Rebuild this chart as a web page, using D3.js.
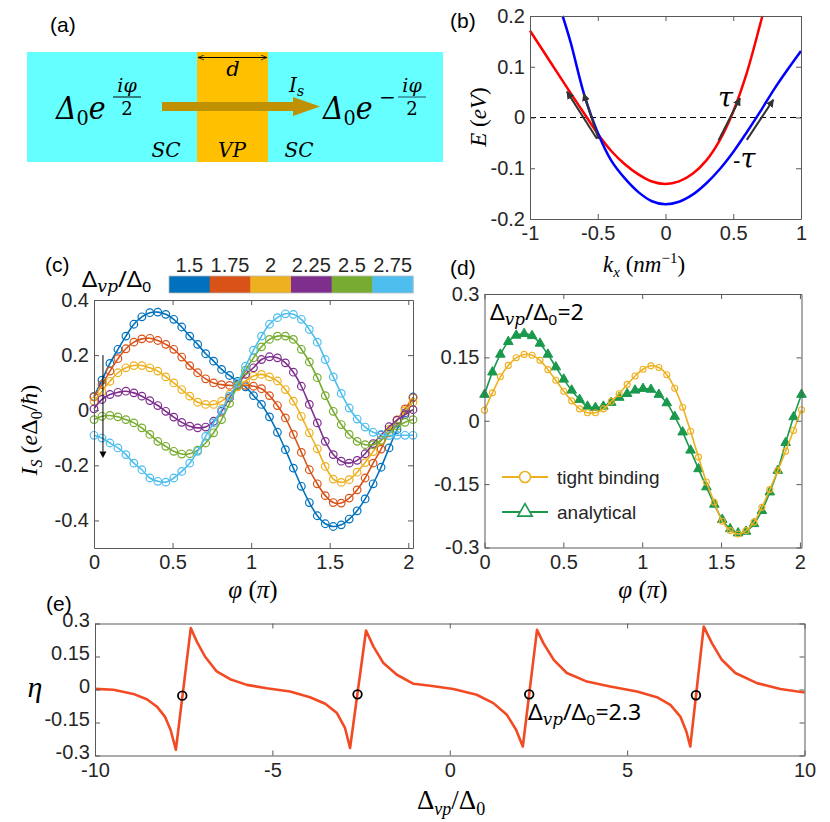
<!DOCTYPE html>
<html>
<head>
<meta charset="utf-8">
<script src="https://cdn.jsdelivr.net/npm/d3@7"></script>
<style>
  body { margin: 0; background: #fff; }
  svg { display: block; }
</style>
</head>
<body>
<div id="fig"></div>
<script>
// ---------- data ----------

// (b) band dispersion
const redKx  = [-1, -0.9, -0.8, -0.7, -0.6, -0.5, -0.4, -0.3, -0.2, -0.1, 0, 0.1, 0.2, 0.3, 0.4, 0.5, 0.6, 0.7, 0.715];
const redE   = [0.171, 0.130, 0.089, 0.048, 0.008, -0.032, -0.066, -0.092, -0.112, -0.126, -0.131, -0.126, -0.111, -0.085, -0.045, 0.012, 0.088, 0.185, 0.2];
const blueKx = [-0.759, -0.7, -0.6, -0.5, -0.4, -0.3, -0.2, -0.1, 0, 0.1, 0.2, 0.3, 0.4, 0.5, 0.6, 0.7, 0.8, 0.9, 1.0];
const blueE  = [0.2, 0.148, 0.045, -0.030, -0.085, -0.120, -0.147, -0.165, -0.171, -0.166, -0.152, -0.130, -0.102, -0.068, -0.029, 0.012, 0.055, 0.094, 0.131];
// tangent arrows
const tanFromKx = [-0.506, -0.494, 0.391, 0.600];
const tanFromE  = [-0.042, -0.042, -0.045, -0.044];
const tanToKx   = [-0.727, -0.604, 0.550, 0.796];
const tanToE    = [0.051, 0.047, 0.038, 0.035];

// (c) supercurrent for several Delta_vp/Delta_0
const cbLabels = ["1.5", "1.75", "2", "2.25", "2.5", "2.75"];
const cbColors = ["#0072BD", "#D95319", "#EDB120", "#7E2F8E", "#77AC30", "#4DBEEE"];
const isC15  = [0.050, 0.109, 0.170, 0.221, 0.269, 0.312, 0.339, 0.354, 0.356, 0.348, 0.330, 0.302, 0.269, 0.239, 0.205, 0.178, 0.148, 0.126, 0.105, 0.085, 0.053, 0.021, -0.024, -0.080, -0.143, -0.210, -0.276, -0.335, -0.383, -0.412, -0.422, -0.416, -0.395, -0.365, -0.322, -0.267, -0.207, -0.137, -0.070, -0.010, 0.048];
const isC175 = [0.048, 0.093, 0.142, 0.187, 0.223, 0.247, 0.259, 0.261, 0.253, 0.239, 0.221, 0.193, 0.162, 0.136, 0.114, 0.099, 0.093, 0.090, 0.090, 0.090, 0.087, 0.078, 0.053, 0.017, -0.028, -0.088, -0.153, -0.216, -0.267, -0.310, -0.335, -0.337, -0.319, -0.289, -0.246, -0.192, -0.141, -0.082, -0.036, 0.005, 0.045];
const isC20  = [0.033, 0.069, 0.105, 0.136, 0.154, 0.162, 0.162, 0.154, 0.142, 0.121, 0.099, 0.075, 0.051, 0.029, 0.021, 0.021, 0.033, 0.058, 0.085, 0.106, 0.124, 0.130, 0.121, 0.106, 0.075, 0.033, -0.022, -0.082, -0.140, -0.204, -0.250, -0.262, -0.252, -0.225, -0.190, -0.150, -0.110, -0.070, -0.035, -0.002, 0.029];
const isC225 = [0.005, 0.039, 0.057, 0.065, 0.069, 0.063, 0.051, 0.035, 0.017, -0.004, -0.025, -0.044, -0.058, -0.064, -0.061, -0.040, -0.004, 0.045, 0.093, 0.130, 0.154, 0.184, 0.194, 0.190, 0.172, 0.138, 0.087, 0.021, -0.046, -0.113, -0.161, -0.185, -0.192, -0.182, -0.158, -0.121, -0.090, -0.060, -0.036, -0.016, 0.002];
const isC25  = [-0.034, -0.022, -0.019, -0.024, -0.034, -0.046, -0.064, -0.088, -0.113, -0.131, -0.149, -0.159, -0.158, -0.145, -0.119, -0.082, -0.034, 0.025, 0.090, 0.145, 0.190, 0.230, 0.257, 0.269, 0.269, 0.257, 0.221, 0.175, 0.118, 0.053, -0.004, -0.052, -0.088, -0.113, -0.125, -0.125, -0.109, -0.082, -0.058, -0.044, -0.034];
const isC275 = [-0.091, -0.101, -0.119, -0.137, -0.161, -0.192, -0.216, -0.246, -0.258, -0.261, -0.246, -0.222, -0.192, -0.149, -0.095, -0.046, 0.002, 0.051, 0.099, 0.160, 0.218, 0.269, 0.312, 0.336, 0.350, 0.348, 0.330, 0.293, 0.247, 0.184, 0.121, 0.061, 0.008, -0.032, -0.061, -0.080, -0.088, -0.092, -0.091, -0.091, -0.091];
const seriesC = [isC15, isC175, isC20, isC225, isC25, isC275];

// (d) tight binding vs analytical, Delta_vp/Delta_0 = 2
const isTB = [0.025, 0.066, 0.104, 0.131, 0.149, 0.157, 0.155, 0.143, 0.121, 0.096, 0.070, 0.047, 0.028, 0.019, 0.019, 0.028, 0.046, 0.064, 0.086, 0.106, 0.122, 0.130, 0.126, 0.109, 0.077, 0.032, -0.025, -0.086, -0.145, -0.193, -0.238, -0.260, -0.268, -0.260, -0.240, -0.205, -0.163, -0.118, -0.072, -0.023, 0.026];
const isAN = [0.062, 0.115, 0.157, 0.187, 0.202, 0.206, 0.201, 0.183, 0.157, 0.127, 0.098, 0.072, 0.050, 0.034, 0.031, 0.034, 0.043, 0.055, 0.064, 0.072, 0.076, 0.074, 0.062, 0.042, 0.010, -0.027, -0.070, -0.114, -0.157, -0.198, -0.234, -0.256, -0.266, -0.262, -0.244, -0.213, -0.169, -0.118, -0.052, 0.009, 0.062];

// (e) eta versus Delta_vp/Delta_0
const etaX = [-10, -9.48, -8.92, -8.54, -8.26, -8.03, -7.87, -7.72, -7.30, -7.13, -6.90, -6.57, -6.19, -5.72, -5.16, -4.50, -3.94, -3.51, -3.18, -2.95, -2.81, -2.36, -2.15, -1.87, -1.49, -1.02, -0.55, 0.10, 0.76, 1.23, 1.61, 1.87, 2.06, 2.46, 2.64, 2.93, 3.30, 3.87, 4.52, 5.28, 5.84, 6.22, 6.50, 6.67, 6.78, 7.16, 7.39, 7.67, 8.05, 8.66, 9.32, 10.0];
const etaY = [0.003, -0.001, -0.020, -0.044, -0.077, -0.123, -0.183, -0.274, 0.279, 0.218, 0.150, 0.082, 0.047, 0.021, 0.006, -0.009, -0.035, -0.065, -0.107, -0.176, -0.266, 0.268, 0.195, 0.120, 0.067, 0.026, 0.017, 0.002, -0.024, -0.062, -0.115, -0.183, -0.259, 0.271, 0.211, 0.135, 0.075, 0.036, 0.014, -0.009, -0.035, -0.070, -0.123, -0.191, -0.259, 0.286, 0.211, 0.135, 0.075, 0.029, 0.002, -0.014];
const etaDotX = [-7.54, -2.60, 2.24, 6.94];
const etaDotY = [-0.028, -0.022, -0.022, -0.026];

// tick values / labels
const bxTicks = [-1, -0.5, 0, 0.5, 1],        bxLabels = ["-1", "-0.5", "0", "0.5", "1"];
const byTicks = [-0.2, -0.1, 0, 0.1, 0.2],    byLabels = ["-0.2", "-0.1", "0", "0.1", "0.2"];
const phiTicks = [0, 0.5, 1, 1.5, 2],         phiLabels = ["0", "0.5", "1", "1.5", "2"];
const cyTicks = [-0.4, -0.2, 0, 0.2, 0.4],    cyLabels = ["-0.4", "-0.2", "0", "0.2", "0.4"];
const dyTicks = [-0.3, -0.15, 0, 0.15, 0.3],  dyLabels = ["-0.3", "-0.15", "0", "0.15", "0.3"];
const exTicks = [-10, -5, 0, 5, 10],          exLabels = ["-10", "-5", "0", "5", "10"];

// ---------- drawing ----------
const W = 830, H = 822;
const SANS = "'Liberation Sans', Arial, sans-serif";
const SERIF = "'Liberation Serif', 'Times New Roman', serif";
const DSERIF = "'DejaVu Serif', serif";
const NOTO = "'Noto Sans', 'DejaVu Sans', sans-serif";
const AXC = "#595959", TXC = "#262626";

const svg = d3.select("#fig").append("svg")
    .attr("width", W).attr("height", H)
    .style("background", "#fff");

// rich text: runs = [text, family, size, italic, dy]
function rich(parent, x, y, runs, opts) {
    opts = opts || {};
    const g = parent.append("g")
        .attr("transform", `translate(${x},${y})` + (opts.rot ? ` rotate(${opts.rot})` : "") + (opts.sx ? ` scale(${opts.sx},1)` : ""));
    const t = g.append("text")
        .attr("text-anchor", opts.anchor || "start")
        .attr("fill", opts.fill || "#000");
    runs.forEach(r => {
        t.append("tspan").text(r[0])
            .attr("font-family", r[1])
            .attr("font-size", r[2])
            .attr("font-style", r[3] ? "italic" : "normal")
            .attr("dy", r[4] || 0);
    });
    return t;
}

function frame(g, x, y, xt, xl, yt, yl, fs, yShift) {
    const [x0, x1] = x.range(), [y0, y1] = y.range();
    const style = sel => {
        sel.select(".domain").attr("stroke", AXC);
        sel.selectAll(".tick line").attr("stroke", AXC);
        sel.selectAll("text").attr("fill", TXC).attr("font-family", SANS).attr("font-size", fs);
        sel.attr("font-family", null).attr("font-size", null);
    };
    g.append("g").attr("transform", `translate(0,${y0})`)
        .call(d3.axisBottom(x).tickValues(xt).tickFormat((d, i) => xl[i]).tickSizeInner(-5).tickSizeOuter(0).tickPadding(7))
        .call(style);
    g.append("g").attr("transform", `translate(0,${y1})`)
        .call(d3.axisTop(x).tickValues(xt).tickFormat("").tickSizeInner(-5).tickSizeOuter(0))
        .call(style);
    const left = g.append("g").attr("transform", `translate(${x0},0)`)
        .call(d3.axisLeft(y).tickValues(yt).tickFormat((d, i) => yl[i]).tickSizeInner(-5).tickSizeOuter(0).tickPadding(5))
        .call(style);
    if (yShift) left.selectAll(".tick text").attr("y", -yShift);
    g.append("g").attr("transform", `translate(${x1},0)`)
        .call(d3.axisRight(y).tickValues(yt).tickFormat("").tickSizeInner(-5).tickSizeOuter(0))
        .call(style);
}

function panelTag(txt, x, y) {
    svg.append("text").attr("x", x).attr("y", y).text(txt)
        .attr("font-family", SANS).attr("font-size", 21).attr("fill", "#000");
}

// ===== (a) junction sketch =====
const ga = svg.append("g");
ga.append("rect").attr("x", 27).attr("y", 52).attr("width", 416).attr("height", 110).attr("fill", "#66FFFF");
ga.append("rect").attr("x", 197).attr("y", 52).attr("width", 71).attr("height", 110).attr("fill", "#FFC000");
ga.append("rect").attr("x", 162).attr("y", 102).attr("width", 132).attr("height", 9).attr("fill", "#BF9000");
ga.append("path").attr("d", "M293,97 L320,106.5 L293,116 Z").attr("fill", "#BF9000");
const defs = svg.append("defs");
defs.append("marker").attr("id", "hd").attr("viewBox", "0 0 10 10").attr("refX", 10).attr("refY", 5)
    .attr("markerWidth", 7).attr("markerHeight", 6).attr("orient", "auto-start-reverse")
    .append("path").attr("d", "M0,1 L10,5 L0,9").attr("fill", "none").attr("stroke", "#000").attr("stroke-width", 1.2);
defs.append("marker").attr("id", "tan").attr("viewBox", "0 0 10 10").attr("refX", 9).attr("refY", 5)
    .attr("markerWidth", 4).attr("markerHeight", 4).attr("orient", "auto")
    .append("path").attr("d", "M0,0 L10,5 L0,10 Z").attr("fill", "#333");
ga.append("line").attr("x1", 198).attr("x2", 267).attr("y1", 57.5).attr("y2", 57.5)
    .attr("stroke", "#000").attr("stroke-width", 1)
    .attr("marker-start", "url(#hd)").attr("marker-end", "url(#hd)");
rich(ga, 233, 76, [["d", DSERIF, 21, true]], { anchor: "middle" });
rich(ga, 289, 92, [["I", DSERIF, 20, true], ["s", DSERIF, 14, true, 4]]);
// left order parameter
rich(ga, 56, 119, [["Δ", DSERIF, 31, true], ["0", DSERIF, 21, false, 6], ["e", DSERIF, 31, true, -6]], { sx: 0.92 });
rich(ga, 127, 92, [["iφ", DSERIF, 19, true]], { anchor: "middle" });
ga.append("line").attr("x1", 113).attr("x2", 141).attr("y1", 97).attr("y2", 97).attr("stroke", "#000").attr("stroke-width", 1);
rich(ga, 127, 115, [["2", DSERIF, 18]], { anchor: "middle" });
// right order parameter
rich(ga, 323, 119, [["Δ", DSERIF, 31, true], ["0", DSERIF, 21, false, 6], ["e", DSERIF, 31, true, -6]], { sx: 0.92 });
rich(ga, 379, 104, [["−", DSERIF, 20]]);
rich(ga, 412, 92, [["iφ", DSERIF, 19, true]], { anchor: "middle" });
ga.append("line").attr("x1", 398).attr("x2", 426).attr("y1", 97).attr("y2", 97).attr("stroke", "#1f4f5f").attr("stroke-width", 1);
rich(ga, 412, 115, [["2", DSERIF, 18]], { anchor: "middle" });
rich(ga, 166, 157, [["SC", DSERIF, 20, true]], { anchor: "middle" });
rich(ga, 232, 157, [["VP", DSERIF, 20, true]], { anchor: "middle" });
rich(ga, 299, 157, [["SC", DSERIF, 20, true]], { anchor: "middle" });
panelTag("(a)", 50, 32);

// ===== (b) bands =====
const xB = d3.scaleLinear().domain([-1, 1]).range([530, 801]);
const yB = d3.scaleLinear().domain([-0.2, 0.2]).range([219, 16]);
const gb = svg.append("g");
gb.append("line").attr("x1", xB(-1)).attr("x2", xB(1)).attr("y1", yB(0)).attr("y2", yB(0))
    .attr("stroke", "#000").attr("stroke-width", 1.2).attr("stroke-dasharray", "6,4");
const lineB = d3.line().x(d => xB(d[0])).y(d => yB(d[1])).curve(d3.curveCatmullRom);
gb.append("path").datum(redKx.map((k, i) => [k, redE[i]])).attr("d", lineB)
    .attr("fill", "none").attr("stroke", "#FF0000").attr("stroke-width", 2.5);
gb.append("path").datum(blueKx.map((k, i) => [k, blueE[i]])).attr("d", lineB)
    .attr("fill", "none").attr("stroke", "#0000FF").attr("stroke-width", 2.5);
tanFromKx.forEach((k, i) => {
    gb.append("line").attr("x1", xB(k)).attr("y1", yB(tanFromE[i]))
        .attr("x2", xB(tanToKx[i])).attr("y2", yB(tanToE[i]))
        .attr("stroke", "#333").attr("stroke-width", 2).attr("marker-end", "url(#tan)");
});
frame(gb, xB, yB, bxTicks, bxLabels, byTicks, byLabels, 20);
rich(gb, 718, 107, [["τ", DSERIF, 27, true]]);
rich(gb, 733, 168, [["-", DSERIF, 22], ["τ", DSERIF, 27, true]]);
rich(gb, 486, 117, [["E", SERIF, 23, true], [" (", SERIF, 23], ["eV", SERIF, 23, true], [")", SERIF, 23]], { rot: -90, anchor: "middle" });
rich(gb, 603, 272, [["k", SERIF, 23, true], ["x", SERIF, 15, true, 5], [" (", SERIF, 23, false, -5], ["nm", SERIF, 23, true], ["−1", SERIF, 15, false, -9], [")", SERIF, 23, false, 9]]);
panelTag("(b)", 450, 28);

// ===== (c) current phase relations =====
const xC = d3.scaleLinear().domain([0, 2.03]).range([94, 413]);
const yC = d3.scaleLinear().domain([-0.5, 0.4]).range([548, 300]);
const phiC = d3.range(41).map(i => i * 2.03 / 40);
const gc = svg.append("g");
const lineC = d3.line().x((d, i) => xC(phiC[i])).y(d => yC(d)).curve(d3.curveCatmullRom);
seriesC.forEach((s, k) => {
    gc.append("path").datum(s).attr("d", lineC)
        .attr("fill", "none").attr("stroke", cbColors[k]).attr("stroke-width", 1.6);
    gc.append("g").selectAll("circle").data(s).join("circle")
        .attr("cx", (d, i) => xC(phiC[i])).attr("cy", d => yC(d)).attr("r", 3.8)
        .attr("fill", "none").attr("stroke", cbColors[k]).attr("stroke-width", 1.2);
});
// arrow showing increasing Delta_vp
gc.append("line").attr("x1", xC(0.057)).attr("x2", xC(0.057)).attr("y1", yC(0.2)).attr("y2", yC(-0.15))
    .attr("stroke", "#000").attr("stroke-width", 1);
gc.append("path").attr("d", `M${xC(0.057) - 3.5},${yC(-0.15)} L${xC(0.057) + 3.5},${yC(-0.15)} L${xC(0.057)},${yC(-0.173)} Z`).attr("fill", "#000");
frame(gc, xC, yC, phiTicks, phiLabels, cyTicks, cyLabels, 20);
// colorbar
const cbX = d3.scaleBand().domain(cbLabels).range([169, 413]);
gc.append("g").selectAll("rect").data(cbLabels).join("rect")
    .attr("x", d => cbX(d)).attr("y", 276).attr("width", cbX.bandwidth() + 0.5).attr("height", 17)
    .attr("fill", (d, i) => cbColors[i]);
gc.append("rect").attr("x", 169).attr("y", 276).attr("width", 244).attr("height", 17)
    .attr("fill", "none").attr("stroke", "#bbb").attr("stroke-width", 0.8);
gc.append("g").selectAll("text").data(cbLabels).join("text")
    .attr("x", d => cbX(d) + cbX.bandwidth() / 2).attr("y", 272).attr("text-anchor", "middle")
    .attr("font-family", SANS).attr("font-size", 20).attr("fill", TXC).text(d => d);
rich(gc, 82, 287, [["Δ", NOTO, 22], ["vp", DSERIF, 16, true, 5], ["/", NOTO, 22, false, -5], ["Δ", NOTO, 22], ["0", NOTO, 15, false, 5]], { sx: 1.08 });
rich(gc, 37, 430, [["I", SERIF, 24, true], ["S", SERIF, 16, true, 5], [" (", SERIF, 24, false, -5], ["e", SERIF, 24, true], ["Δ", SERIF, 24], ["0", SERIF, 16, false, 5], ["/", SERIF, 24, false, -5], ["ħ", SERIF, 24, true], [")", SERIF, 24]], { rot: -90, anchor: "middle" });
rich(gc, 253, 598, [["φ", SERIF, 25, true], [" (", SERIF, 25], ["π", SERIF, 25, true], [")", SERIF, 25]], { anchor: "middle" });
panelTag("(c)", 45, 272);

// ===== (d) tight binding vs analytical =====
const xD = d3.scaleLinear().domain([0, 2.01]).range([484.5, 801.5]);
const yD = d3.scaleLinear().domain([-0.3, 0.3]).range([547.5, 294]);
const phiD = d3.range(41).map(i => i * 2.01 / 40);
const gd = svg.append("g");
const YEL = "#EDB120", GRN = "#1A994D";
const lineD = d3.line().x((d, i) => xD(phiD[i])).y(d => yD(d)).curve(d3.curveCatmullRom);
gd.append("path").datum(isAN).attr("d", lineD).attr("fill", "none").attr("stroke", GRN).attr("stroke-width", 1.6);
const tri = d3.symbol().type(d3.symbolTriangle).size(40);
gd.append("g").selectAll("path").data(isAN).join("path")
    .attr("transform", (d, i) => `translate(${xD(phiD[i])},${yD(d)})`).attr("d", tri)
    .attr("fill", GRN).attr("stroke", GRN).attr("stroke-width", 1);
gd.append("path").datum(isTB).attr("d", lineD).attr("fill", "none").attr("stroke", YEL).attr("stroke-width", 1.6);
gd.append("g").selectAll("circle").data(isTB).join("circle")
    .attr("cx", (d, i) => xD(phiD[i])).attr("cy", d => yD(d)).attr("r", 3)
    .attr("fill", "none").attr("stroke", YEL).attr("stroke-width", 1.1);
frame(gd, xD, yD, phiTicks, phiLabels, dyTicks, dyLabels, 20);
// legend
gd.append("line").attr("x1", 502).attr("x2", 548).attr("y1", 477).attr("y2", 477).attr("stroke", YEL).attr("stroke-width", 1.8);
gd.append("circle").attr("cx", 525).attr("cy", 477).attr("r", 5.5).attr("fill", "#fff").attr("stroke", YEL).attr("stroke-width", 1.6);
gd.append("line").attr("x1", 502).attr("x2", 548).attr("y1", 512).attr("y2", 512).attr("stroke", GRN).attr("stroke-width", 1.8);
gd.append("path").attr("transform", "translate(525,512)").attr("d", d3.symbol().type(d3.symbolTriangle).size(90))
    .attr("fill", "#fff").attr("stroke", GRN).attr("stroke-width", 1.6);
gd.append("text").attr("x", 557).attr("y", 484).text("tight binding").attr("font-family", SANS).attr("font-size", 19).attr("fill", TXC);
gd.append("text").attr("x", 557).attr("y", 519).text("analytical").attr("font-family", SANS).attr("font-size", 19).attr("fill", TXC);
rich(gd, 490, 320, [["Δ", NOTO, 22], ["vp", DSERIF, 16, true, 5], ["/", NOTO, 22, false, -5], ["Δ", NOTO, 22], ["0", NOTO, 15, false, 5], ["=2", NOTO, 22, false, -5]], { sx: 1.05 });
rich(gd, 643, 598, [["φ", SERIF, 25, true], [" (", SERIF, 25], ["π", SERIF, 25, true], [")", SERIF, 25]], { anchor: "middle" });
panelTag("(d)", 450, 275);

// ===== (e) eta =====
const xE = d3.scaleLinear().domain([-10, 10]).range([95, 804.5]);
const yE = d3.scaleLinear().domain([-0.3, 0.3]).range([755.5, 623.5]);
const ge = svg.append("g");
ge.append("path").datum(etaX.map((v, i) => [v, etaY[i]]))
    .attr("d", d3.line().x(d => xE(d[0])).y(d => yE(d[1])))
    .attr("fill", "none").attr("stroke", "#F24B24").attr("stroke-width", 2.6).attr("stroke-linejoin", "round");
ge.append("g").selectAll("circle").data(etaDotX).join("circle")
    .attr("cx", d => xE(d)).attr("cy", (d, i) => yE(etaDotY[i])).attr("r", 4.3)
    .attr("fill", "none").attr("stroke", "#000").attr("stroke-width", 1.8);
frame(ge, xE, yE, exTicks, exLabels, dyTicks, dyLabels, 20, 3);
rich(ge, 528, 720, [["Δ", NOTO, 22], ["vp", DSERIF, 16, true, 5], ["/", NOTO, 22, false, -5], ["Δ", NOTO, 22], ["0", NOTO, 15, false, 5], ["=2.3", NOTO, 22, false, -5]], { sx: 1.05 });
rich(ge, 35, 697, [["η", SERIF, 30, true]], { anchor: "middle" });
rich(ge, 451, 809, [["Δ", SERIF, 27], ["vp", SERIF, 18, true, 6], ["/", SERIF, 27, false, -6], ["Δ", SERIF, 27], ["0", SERIF, 18, false, 6]], { anchor: "middle" });
panelTag("(e)", 46, 611);
</script>
</body>
</html>
